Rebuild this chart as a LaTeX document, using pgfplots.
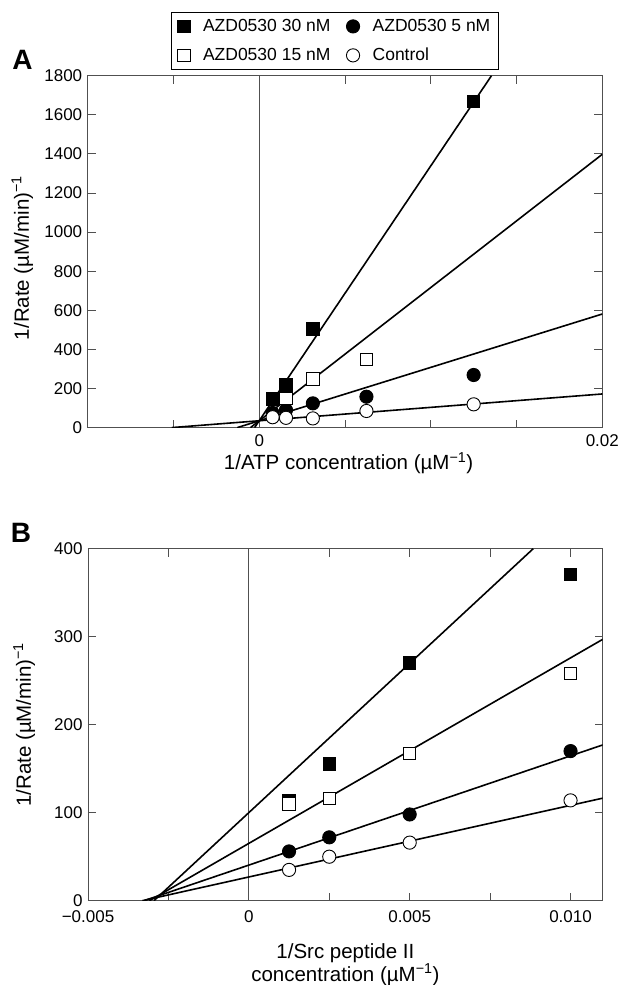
\documentclass[border=0pt]{standalone}
\usepackage{fontspec}
\setmainfont{Liberation Sans}
\usepackage{pgfplots}
\pgfplotsset{compat=1.18}
\definecolor{axgray}{RGB}{80,80,80}
\pgfplotsset{
  kin/.style={
    scale only axis,
    axis line style={axgray, line width=0.9pt},
    tick style={axgray, line width=0.9pt},
    major tick length=8pt,
    tick align=inside,
    scaled x ticks=false, scaled y ticks=false,
    xticklabel style={font=\fontsize{17}{20}\selectfont, text=black, yshift=-4pt},
    yticklabel style={font=\fontsize{17}{20}\selectfont, text=black, xshift=-2pt},
    label style={font=\fontsize{20.5}{21.5}\selectfont},
    clip mode=individual,
  },
  fitline/.style={black, line width=1.6pt, forget plot},
  mk/.style={only marks, legend image code/.code={\draw[##1] plot coordinates {(0pt,0pt)};}},
  s30/.style={mk, mark=square*, mark size=6.2pt, mark options={draw=black, fill=black, line width=0.9pt}},
  s15/.style={mk, mark=square*, mark size=6.2pt, mark options={draw=black, fill=white, line width=0.9pt}},
  c5/.style={mk, mark=*, mark size=6.6pt, mark options={draw=black, fill=black, line width=0.9pt}},
  cc/.style={mk, mark=*, mark size=6.6pt, mark options={draw=black, fill=white, line width=0.9pt}},
}
\begin{document}
\begin{tikzpicture}
\useasboundingbox (0pt,0pt) rectangle (622pt,985pt);
% ---------------- Panel A ----------------
\begin{axis}[kin,
  at={(87.7pt,557.4pt)}, anchor=south west,
  width=514.6pt, height=351.9pt,
  xmin=-0.01, xmax=0.02, ymin=0, ymax=1800,
  xtick={-0.005,0,0.005,0.01,0.015,0.02},
  xticklabels={{},0,{},{},{},0.02},
  ytick={0,200,400,600,800,1000,1200,1400,1600,1800},
  yticklabels={0,200,400,600,800,1000,1200,1400,1600,1800},
  xlabel={1/ATP concentration (µM\textsuperscript{−1})},
  ylabel={1/Rate (µM/min)\textsuperscript{−1}},
  xlabel style={at={(axis description cs:0.507,-0.12)}, anchor=base},
  ylabel style={at={(axis description cs:-0.127,0.482)}, anchor=center},
  legend columns=2, legend cell align=left,
  legend style={at={(axis description cs:0.162,1.181)}, anchor=north west,
    draw=black, line width=1.1pt, font=\fontsize{17.5}{20}\selectfont,
    inner xsep=6pt, inner ysep=5pt, row sep=11pt,
    /tikz/every odd column/.append style={column sep=11pt},
    /tikz/every even column/.append style={column sep=14pt}},
]
\addplot[axgray, line width=0.8pt, forget plot] coordinates {(0,0) (0,1800)};
\addplot[fitline] coordinates {(-0.0051,0) (0.02,172)};
\addplot[fitline] coordinates {(-0.00128,0) (0.02,581)};
\addplot[fitline] coordinates {(-0.00051,0) (0.02,1398)};
\addplot[fitline] coordinates {(-0.00027,0) (0.01354,1800)};
\addplot[s30] coordinates {(0.00078,146) (0.00156,218) (0.003125,504) (0.0125,1667)};
\addlegendentry{AZD0530 30 nM}
\addplot[c5] coordinates {(0.00078,75) (0.00156,90) (0.003125,124) (0.00625,158) (0.0125,269)};
\addlegendentry{AZD0530 5 nM}
\addplot[s15] coordinates {(0.00156,150) (0.003125,249) (0.00625,349)};
\addlegendentry{AZD0530 15 nM}
\addplot[cc] coordinates {(0.00078,53) (0.00156,50) (0.003125,47) (0.00625,85) (0.0125,119)};
\addlegendentry{Control}
\end{axis}
% ---------------- Panel B ----------------
\begin{axis}[kin,
  at={(88pt,84.3pt)}, anchor=south west,
  width=514.7pt, height=352pt,
  xmin=-0.005, xmax=0.011, ymin=0, ymax=400,
  xtick={-0.005,-0.0025,0,0.0025,0.005,0.0075,0.01},
  xticklabels={−0.005,{},0,{},0.005,{},0.010},
  ytick={0,100,200,300,400},
  yticklabels={0,100,200,300,400},
  xticklabel style={yshift=-2pt},
  xlabel={1/Src peptide II\\concentration (µM\textsuperscript{−1})},
  ylabel={1/Rate (µM/min)\textsuperscript{−1}},
  xlabel style={at={(axis description cs:0.5,-0.121)}, anchor=north, align=center, inner sep=0pt},
  ylabel style={at={(axis description cs:-0.124,0.5)}, anchor=center},
]
\addplot[axgray, line width=0.8pt, forget plot] coordinates {(0,0) (0,400)};
\addplot[fitline] coordinates {(-0.00331,0) (0.011,116.5)};
\addplot[fitline] coordinates {(-0.00326,0) (0.011,177)};
\addplot[fitline] coordinates {(-0.00309,0) (0.011,297)};
\addplot[fitline] coordinates {(-0.00295,0) (0.00884,400)};
\addplot[s30] coordinates {(0.00125,114) (0.0025,155.5) (0.005,270) (0.01,371)};
\addplot[c5] coordinates {(0.00125,56) (0.0025,72) (0.005,98) (0.01,170)};
\addplot[s15] coordinates {(0.00125,110) (0.0025,116) (0.005,167) (0.01,258)};
\addplot[cc] coordinates {(0.00125,35) (0.0025,50) (0.005,66) (0.01,114)};
\end{axis}
\node[font=\bfseries\fontsize{28}{30}\selectfont] at (22.5pt,925pt) {A};
\node[font=\bfseries\fontsize{28}{30}\selectfont] at (21pt,452.5pt) {B};
\end{tikzpicture}
\end{document}
